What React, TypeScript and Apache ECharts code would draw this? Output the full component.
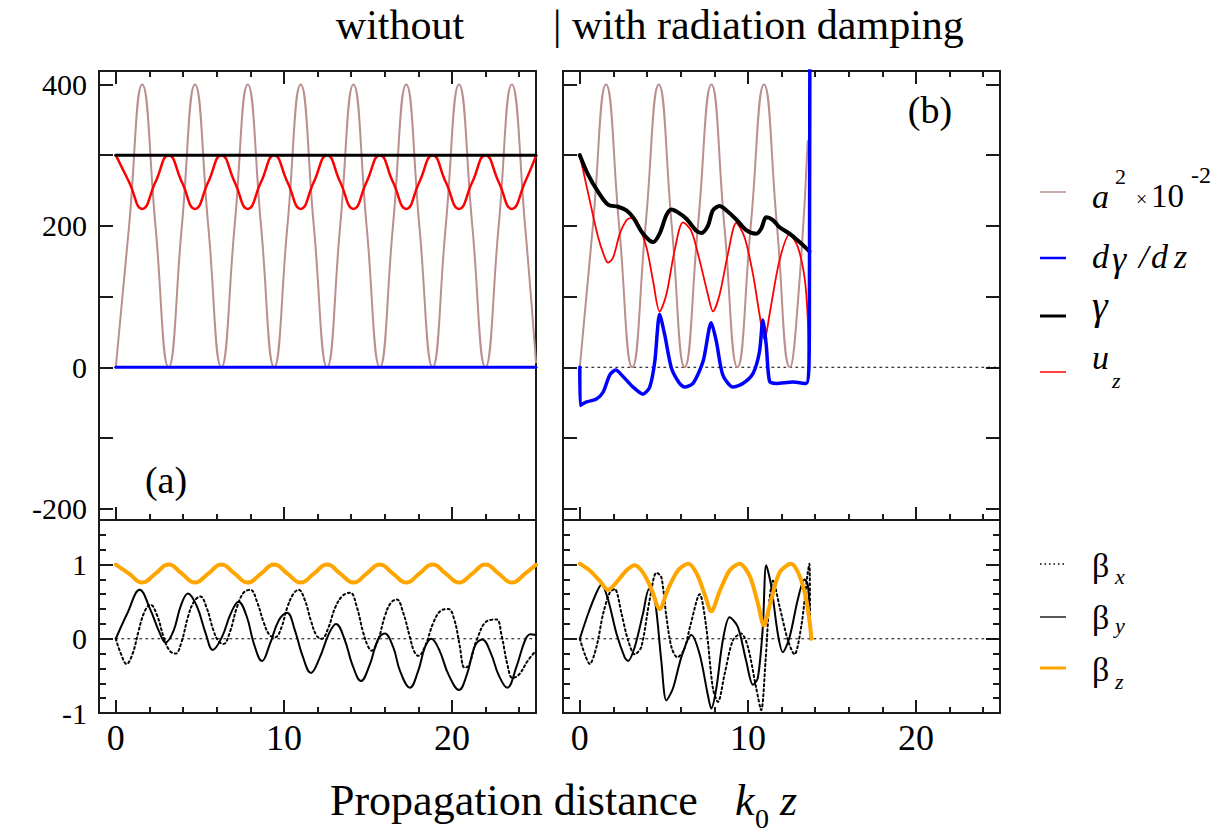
import { useEffect, useRef } from "react";
import * as echarts from "echarts";

// ===== Axis ticks / labels =====
const X_MAJOR = [0, 10, 20];
const X_MINOR = [2, 4, 6, 8, 12, 14, 16, 18, 22, 24];
const TOP_Y_TICKS = [-200, -100, 0, 100, 200, 300, 400];
const TOP_Y_LABELS = [-200, 0, 200, 400];
const BOT_Y_MAJOR = [-1, 0, 1];
const BOT_Y_MINOR = [-0.8, -0.6, -0.4, -0.2, 0.2, 0.4, 0.6, 0.8, 1.2, 1.4];
const X_RANGE = [-1, 25];
const TOP_Y_RANGE = [-216, 419];
const BOT_Y_RANGE = [-1, 1.6];

// ===== (a) without radiation damping =====
const zA = [0, 0.79, 1.57, 2.36, 3.14, 3.93, 4.71, 5.5, 6.28, 7.07, 7.85, 8.64, 9.42, 10.21, 11.0, 11.78, 12.57, 13.35, 14.14, 14.92, 15.71, 16.49, 17.28, 18.06, 18.85, 19.63, 20.42, 21.21, 21.99, 22.78, 23.56, 24.35, 25.0];
const a2A = [0, 200, 400, 200, 0, 200, 400, 200, 0, 200, 400, 200, 0, 200, 400, 200, 0, 200, 400, 200, 0, 200, 400, 200, 0, 200, 400, 200, 0, 200, 400, 200, 7];
const uzA = [300, 262, 224, 262, 300, 262, 224, 262, 300, 262, 224, 262, 300, 262, 224, 262, 300, 262, 224, 262, 300, 262, 224, 262, 300, 262, 224, 262, 300, 262, 224, 262, 299];
const gammaA_z = [0, 25];
const gammaA = [300, 300];
const dgA_z = [0, 25];
const dgA = [0, 0];
const bzA = [1, 0.878, 0.757, 0.878, 1, 0.878, 0.757, 0.878, 1, 0.878, 0.757, 0.878, 1, 0.878, 0.757, 0.878, 1, 0.878, 0.757, 0.878, 1, 0.878, 0.757, 0.878, 1, 0.878, 0.757, 0.878, 1, 0.878, 0.757, 0.878, 0.996];
const byA_z = [0, 0.68, 1.42, 2.06, 2.59, 2.97, 3.44, 3.86, 4.29, 4.82, 5.35, 5.77, 6.31, 6.84, 7.3, 7.79, 8.22, 8.7, 9.17, 9.7, 10.19, 10.66, 11.08, 11.61, 12.14, 12.68, 13.1, 13.63, 14.06, 14.59, 15.12, 15.58, 16.0, 16.5, 16.92, 17.5, 17.98, 18.4, 18.77, 19.26, 19.79, 20.42, 20.89, 21.38, 21.8, 22.34, 22.76, 23.29, 23.82, 24.35, 24.67, 25];
const byA = [0, 0.34, 0.66, 0.39, 0.09, -0.05, 0.11, 0.44, 0.61, 0.44, 0.07, -0.15, 0.02, 0.34, 0.5, 0.3, -0.07, -0.3, -0.07, 0.25, 0.35, 0.11, -0.21, -0.46, -0.25, 0.07, 0.2, -0.02, -0.34, -0.57, -0.34, -0.02, 0.07, -0.11, -0.44, -0.66, -0.44, -0.11, 0, -0.16, -0.48, -0.69, -0.48, -0.09, -0.01, -0.21, -0.48, -0.66, -0.39, -0.02, 0.06, 0.05];
const bxA_z = [0, 0.3, 0.64, 1.0, 1.35, 1.7, 2.06, 2.45, 2.85, 3.2, 3.55, 3.9, 4.3, 4.65, 5.03, 5.4, 5.8, 6.1, 6.41, 6.8, 7.2, 7.6, 8.01, 8.4, 8.8, 9.15, 9.49, 9.85, 10.2, 10.55, 10.87, 11.25, 11.6, 11.95, 12.25, 12.65, 13.05, 13.5, 13.95, 14.35, 14.7, 15.0, 15.22, 15.6, 16.0, 16.35, 16.71, 17.1, 17.5, 17.75, 18.0, 18.4, 18.9, 19.35, 19.79, 20.15, 20.45, 20.75, 21.0, 21.5, 22.1, 22.65, 22.95, 23.3, 23.61, 24.0, 24.5, 25];
const bxA = [0, -0.2, -0.34, -0.2, 0.1, 0.36, 0.46, 0.32, 0.02, -0.16, -0.2, -0.05, 0.3, 0.5, 0.57, 0.42, 0.12, -0.03, -0.07, 0.1, 0.42, 0.62, 0.66, 0.5, 0.22, 0.05, 0.02, 0.15, 0.42, 0.6, 0.66, 0.52, 0.25, 0.04, 0, 0.15, 0.42, 0.58, 0.62, 0.42, 0.1, -0.1, -0.16, -0.02, 0.3, 0.48, 0.53, 0.35, 0.02, -0.17, -0.23, -0.1, 0.22, 0.38, 0.4, 0.25, -0.08, -0.39, -0.36, 0.0, 0.24, 0.26, 0.05, -0.35, -0.53, -0.48, -0.3, -0.16];

// ===== (b) with radiation damping =====
const a2B_z = [0, 0.78, 1.56, 2.34, 3.12, 3.91, 4.7, 5.47, 6.24, 7.03, 7.83, 8.6, 9.38, 10.17, 10.96, 11.73, 12.5, 13.0, 13.56];
const a2B = [0, 200, 400, 200, 0, 200, 400, 200, 0, 200, 400, 200, 0, 200, 400, 200, 0, 100, 320];
const gammaB_z = [0, 0.5, 1.09, 1.68, 2.28, 2.77, 3.17, 3.76, 4.36, 4.75, 5.15, 5.45, 5.84, 6.34, 6.93, 7.23, 7.62, 7.92, 8.32, 8.71, 9.31, 9.9, 10.5, 10.79, 11.09, 11.49, 11.88, 12.48, 13.07, 13.66];
const gammaB = [300, 272, 248, 230, 227, 222, 212, 189, 177, 189, 215, 223, 219, 210, 193, 190, 200, 222, 228, 222, 209, 194, 189, 196, 212, 208, 198, 189, 177, 164];
const uzB_z = [0, 0.59, 1.09, 1.49, 1.68, 1.98, 2.38, 2.77, 3.01, 3.37, 3.96, 4.36, 4.75, 5.15, 5.64, 6.14, 6.63, 7.13, 7.62, 7.92, 8.32, 8.81, 9.31, 9.8, 10.3, 10.69, 10.99, 11.29, 11.88, 12.48, 12.97, 13.37, 13.56, 13.62];
const uzB = [300, 236, 184, 155, 148, 155, 189, 208, 211, 208, 170, 122, 79, 103, 165, 205, 193, 151, 103, 79, 103, 160, 204, 184, 132, 75, 39, 75, 151, 188, 170, 127, 70, 0];
const dgB_z = [0, 0.02, 0.4, 0.99, 1.39, 1.78, 2.14, 2.57, 3.17, 3.76, 4.16, 4.46, 4.75, 5.05, 5.45, 5.94, 6.24, 6.73, 7.33, 7.82, 8.12, 8.51, 9.11, 9.7, 10.3, 10.69, 10.89, 11.09, 11.29, 11.68, 12.67, 13.47, 13.62, 13.66, 13.72];
const dgB = [0, -54, -49, -45, -35, -11, -4, -13, -28, -38, -28, 8, 75, 46, -1, -23, -28, -23, 8, 63, 37, -11, -28, -23, -9, 22, 67, 32, -20, -23, -21, -23, -6, 70, 1000];
const bzB_z = [0, 0.59, 1.19, 1.68, 2.18, 2.77, 3.27, 3.76, 4.26, 4.75, 5.25, 5.84, 6.44, 6.93, 7.43, 7.82, 8.32, 8.91, 9.5, 10.1, 10.59, 10.95, 11.29, 11.88, 12.57, 13.07, 13.47, 13.71, 13.77];
const bzB = [1.01, 0.92, 0.78, 0.66, 0.76, 0.92, 0.99, 0.89, 0.67, 0.4, 0.67, 0.92, 1.01, 0.89, 0.6, 0.37, 0.64, 0.92, 1.01, 0.85, 0.48, 0.18, 0.44, 0.89, 1.01, 0.85, 0.53, 0.16, 0];
const byB_z = [0, 0.5, 0.99, 1.29, 1.68, 2.18, 2.67, 2.87, 3.27, 3.76, 4.12, 4.46, 4.85, 5.15, 5.54, 6.04, 6.63, 7.13, 7.62, 7.82, 8.12, 8.51, 8.91, 9.4, 9.9, 10.3, 10.59, 10.89, 11.09, 11.39, 11.78, 12.08, 12.48, 12.97, 13.37, 13.56, 13.66];
const byB = [0, 0.34, 0.62, 0.73, 0.53, 0.07, -0.25, -0.3, -0.11, 0.34, 0.67, 0.53, -0.3, -0.83, -0.67, -0.25, 0.05, -0.21, -0.76, -0.94, -0.67, -0.02, 0.29, 0.16, -0.3, -0.62, -0.53, 0.16, 0.99, 0.71, 0.07, -0.18, 0.02, 0.53, 0.8, 0.73, 0.39];
const bxB_z = [0, 0.3, 0.59, 0.99, 1.39, 1.78, 2.08, 2.48, 2.87, 3.27, 3.66, 4.16, 4.56, 4.85, 5.15, 5.45, 5.8, 6.2, 6.6, 7.13, 7.52, 7.92, 8.22, 8.61, 9.11, 9.6, 10.0, 10.5, 10.79, 11.05, 11.29, 11.49, 11.88, 12.38, 12.77, 13.17, 13.56, 13.66, 13.7];
const bxB = [0, -0.21, -0.34, -0.11, 0.34, 0.62, 0.67, 0.34, -0.02, -0.21, -0.11, 0.53, 0.89, 0.83, 0.3, -0.11, -0.25, -0.15, 0.2, 0.6, 0.16, -0.67, -0.85, -0.48, -0.02, 0.07, -0.11, -0.67, -0.96, -0.3, 0.53, 0.78, 0.44, -0.02, -0.21, 0.16, 0.89, 1.01, 0];

// zero reference line
const zero_z = [0, 25];
const zero = [0, 0];

// ===== styling =====
const FONT = '"Liberation Serif", "Times New Roman", Times, serif';
const FRAME = "#1a1a1a";
const C_A2 = "#bc8f8f";
const C_RED = "#ff0000";
const C_BLUE = "#0000ff";
const C_BLACK = "#000000";
const C_ORANGE = "#ffa500";

const COLS = [
  [99, 536],
  [563, 1000],
];
const ROWS = [
  [71, 520],
  [520, 713],
];

const pts = (xs: number[], ys: number[]) => xs.map((x, i) => [x, ys[i]]);

function mkAxis(
  gridIndex: number,
  position: string,
  range: number[],
  line: boolean,
  ticks: number[] | null,
  tickLen: number,
  labels: number[] | null,
  labelOpts: any = {}
) {
  return {
    type: "value",
    gridIndex,
    position,
    min: range[0],
    max: range[1],
    axisLine: { show: line, onZero: false, lineStyle: { color: FRAME, width: 2 } },
    axisTick: ticks
      ? { show: true, inside: true, length: tickLen, customValues: ticks, lineStyle: { color: FRAME, width: 2 } }
      : { show: false },
    axisLabel: labels
      ? {
          show: true,
          customValues: labels,
          color: "#000",
          fontFamily: FONT,
          formatter: (v: number) => String(v),
          ...labelOpts,
        }
      : { show: false },
    splitLine: { show: false },
    minorTick: { show: false },
    minorSplitLine: { show: false },
    axisPointer: { show: false },
  };
}

function txt(text: string, x: number, y: number, size: number, o: any = {}) {
  const font = `${o.italic ? "italic " : ""}${size}px ${FONT}`;
  return {
    type: "text",
    x,
    y,
    silent: true,
    z: 100,
    style: {
      text,
      font,
      fill: o.fill || "#000",
      align: o.align || "left",
      textAlign: o.align || "left",
      verticalAlign: "middle",
      textVerticalAlign: "middle",
    },
  };
}

function ln(y: number, color: string, width: number, dash?: number[]) {
  return {
    type: "line",
    silent: true,
    z: 100,
    shape: { x1: 1040, y1: y, x2: 1066, y2: y },
    style: { stroke: color, lineWidth: width, lineDash: dash || null },
  };
}

function buildOption() {
  const grid: any[] = [];
  const xAxis: any[] = [];
  const yAxis: any[] = [];
  const dataIdx: { x: number; y: number }[] = [];

  const panels = [
    { col: 0, row: 0 },
    { col: 1, row: 0 },
    { col: 0, row: 1 },
    { col: 1, row: 1 },
  ];

  panels.forEach((p, i) => {
    const [l, r] = COLS[p.col];
    const [t, b] = ROWS[p.row];
    grid.push({ left: l, top: t, width: r - l, height: b - t, outerBoundsMode: "none", containLabel: false });
    const yRange = p.row === 0 ? TOP_Y_RANGE : BOT_Y_RANGE;
    const yTicks = p.row === 0 ? TOP_Y_TICKS : BOT_Y_MAJOR;
    const yLabels = p.row === 0 ? TOP_Y_LABELS : BOT_Y_MAJOR;
    dataIdx.push({ x: xAxis.length, y: yAxis.length });
    xAxis.push(
      mkAxis(i, "bottom", X_RANGE, true, X_MAJOR, 13, p.row === 1 ? X_MAJOR : null, { fontSize: 36, margin: 7 })
    );
    xAxis.push(mkAxis(i, "top", X_RANGE, true, p.row === 0 ? X_MAJOR : null, 13, null));
    yAxis.push(
      mkAxis(i, "left", yRange, true, yTicks, 14, p.col === 0 ? yLabels : null, { fontSize: 30, margin: 12 })
    );
    yAxis.push(mkAxis(i, "right", yRange, true, p.col === 1 ? yTicks : null, 14, null));
  });

  panels.forEach((p, i) => {
    const [l, r] = COLS[p.col];
    const [t, b] = ROWS[p.row];
    const gi = 4 + i;
    grid.push({ left: l, top: t, width: r - l, height: b - t, outerBoundsMode: "none", containLabel: false });
    const yRange = p.row === 0 ? TOP_Y_RANGE : BOT_Y_RANGE;
    xAxis.push(mkAxis(gi, "bottom", X_RANGE, false, X_MINOR, 6, null));
    xAxis.push(mkAxis(gi, "top", X_RANGE, false, p.row === 0 ? X_MINOR : null, 6, null));
    yAxis.push(mkAxis(gi, "left", yRange, false, p.row === 1 ? BOT_Y_MINOR : null, 7, null));
    yAxis.push(mkAxis(gi, "right", yRange, false, p.row === 1 && p.col === 1 ? BOT_Y_MINOR : null, 7, null));
  });

  const line = (
    name: string,
    panel: number,
    xs: number[],
    ys: number[],
    color: string,
    width: number,
    smooth: number | boolean,
    dash?: any
  ) => ({
    type: "line",
    name,
    xAxisIndex: dataIdx[panel].x,
    yAxisIndex: dataIdx[panel].y,
    data: pts(xs, ys),
    showSymbol: false,
    symbol: "none",
    smooth,
    silent: true,
    clip: true,
    lineStyle: { color, width, type: dash || "solid", cap: "round", join: "round" },
  });

  const zeroStyle = [2, 4];
  const series = [
    // (a) top
    line("zero", 0, zero_z, zero, C_BLACK, 1, false, zeroStyle),
    line("a2", 0, zA, a2A, C_A2, 2, true),
    line("uz", 0, zA, uzA, C_RED, 2.5, true),
    line("gamma", 0, gammaA_z, gammaA, C_BLACK, 3, false),
    line("dgamma", 0, dgA_z, dgA, C_BLUE, 3, false),
    // (b) top
    line("zero", 1, zero_z, zero, C_BLACK, 1, false, zeroStyle),
    line("a2", 1, a2B_z, a2B, C_A2, 2, true),
    line("uz", 1, uzB_z, uzB, C_RED, 1.8, 0.3),
    line("gamma", 1, gammaB_z, gammaB, C_BLACK, 4, 0.3),
    line("dgamma", 1, dgB_z, dgB, C_BLUE, 3.5, 0.25),
    // (a) bottom
    line("zero", 2, zero_z, zero, C_BLACK, 1, false, zeroStyle),
    line("bx", 2, bxA_z, bxA, C_BLACK, 2, 0.4, [2, 3]),
    line("by", 2, byA_z, byA, C_BLACK, 2, 0.4),
    line("bz", 2, zA, bzA, C_ORANGE, 4, true),
    // (b) bottom
    line("zero", 3, zero_z, zero, C_BLACK, 1, false, zeroStyle),
    line("bx", 3, bxB_z, bxB, C_BLACK, 2, 0.3, [2, 3]),
    line("by", 3, byB_z, byB, C_BLACK, 2, 0.3),
    line("bz", 3, bzB_z, bzB, C_ORANGE, 4, 0.3),
  ];

  const graphic = [
    txt("without", 400, 25, 42, { align: "center" }),
    txt("| with radiation damping", 553, 25, 42),
    txt("(a)", 166, 480, 38, { align: "center" }),
    txt("(b)", 930, 110, 38, { align: "center" }),
    txt("Propagation distance", 330, 800, 44),
    txt("k", 735, 800, 44, { italic: true }),
    txt("0", 755, 818, 28),
    txt("z", 780, 800, 44, { italic: true }),
    // legend (top)
    ln(192, C_A2, 1.5),
    txt("a", 1092, 196, 34, { italic: true }),
    txt("2", 1115, 176, 22),
    txt("×", 1136, 199, 20),
    txt("10", 1151, 196, 33),
    txt("-2", 1191, 175, 24),
    ln(258, C_BLUE, 2.5),
    txt("d", 1092, 256, 34, { italic: true }),
    txt("γ", 1112, 259, 36, { italic: true }),
    txt("/", 1139, 256, 34, { italic: true }),
    txt("d", 1151, 256, 34, { italic: true }),
    txt("z", 1174, 256, 34, { italic: true }),
    ln(316, C_BLACK, 3),
    txt("γ", 1092, 305, 40, { italic: true }),
    ln(372, C_RED, 1.5),
    txt("u", 1092, 357, 34, { italic: true }),
    txt("z", 1112, 380, 22, { italic: true }),
    // legend (bottom)
    ln(564, C_BLACK, 1.5, [1.5, 3]),
    txt("β", 1092, 565, 34),
    txt("x", 1115, 576, 22, { italic: true }),
    ln(617, "#222", 1.5),
    txt("β", 1092, 617, 34),
    txt("y", 1115, 625, 22, { italic: true }),
    ln(668, C_ORANGE, 3),
    txt("β", 1092, 669, 34),
    txt("z", 1115, 681, 22, { italic: true }),
  ];

  return {
    animation: false,
    backgroundColor: "#ffffff",
    grid,
    xAxis,
    yAxis,
    series,
    graphic,
  };
}

export default function App() {
  const ref = useRef<HTMLDivElement>(null);
  useEffect(() => {
    if (!ref.current) return;
    const chart = echarts.init(ref.current, null, { renderer: "svg" });
    chart.setOption(buildOption() as any);
    return () => chart.dispose();
  }, []);
  return (
    <div
      ref={ref}
      style={{ position: "fixed", left: 0, top: 0, width: 1222, height: 834, background: "#fff" }}
    />
  );
}
